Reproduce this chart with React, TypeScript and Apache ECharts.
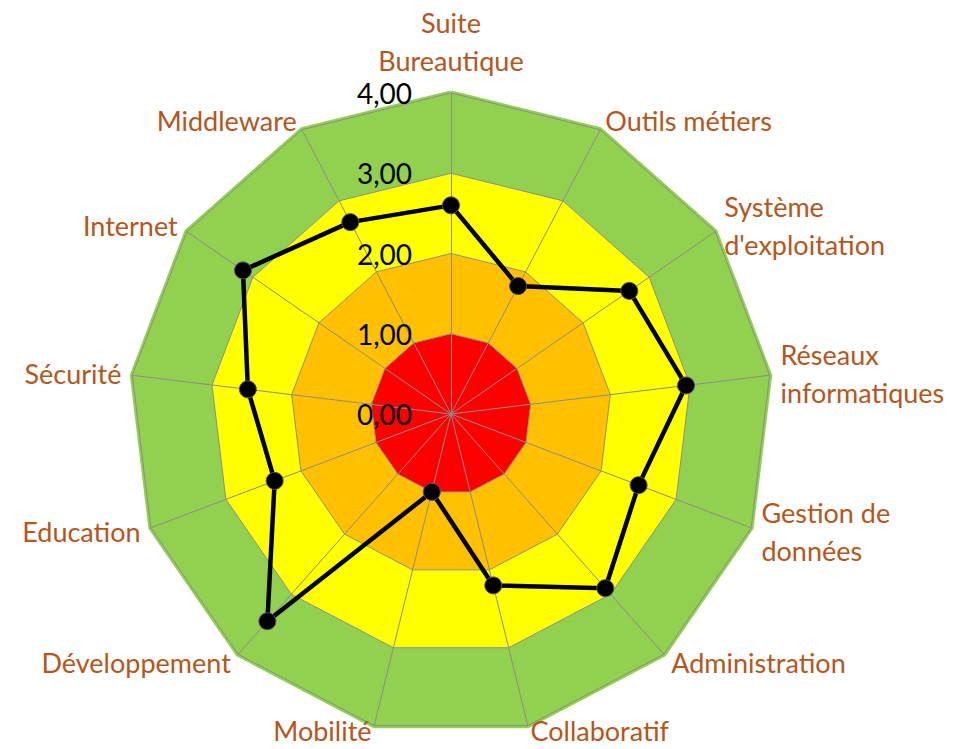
import React, { useEffect, useRef } from "react";
import * as echarts from "echarts";

// Axes, clockwise from the top
const categories = [
  "Suite\nBureautique",
  "Outils métiers",
  "Système\nd'exploitation",
  "Réseaux\ninformatiques",
  "Gestion de\ndonnées",
  "Administration",
  "Collaboratif",
  "Mobilité",
  "Développement",
  "Education",
  "Sécurité",
  "Internet",
  "Middleware",
];

const scores = [2.6, 1.8, 2.7, 2.95, 2.5, 2.9, 2.2, 1.0, 3.45, 2.35, 2.55, 3.15, 2.7];

const tickValues = [0, 1, 2, 3, 4];

const bandColors = ["#FF0000", "#FFC000", "#FFFF00", "#92D050"];

export default function App() {
  const ref = useRef<HTMLDivElement>(null);

  useEffect(() => {
    if (!ref.current) return;
    const chart = echarts.init(ref.current, undefined, { renderer: "svg" });

    const axisMin = tickValues[0];
    const axisMax = tickValues[tickValues.length - 1];

    // ECharts lays radar indicators counter-clockwise; reorder so they run clockwise
    const order = categories.map((_, i) => (i === 0 ? 0 : categories.length - i));
    const indicator = order.map((idx, k) => ({
      name: categories[idx],
      min: axisMin,
      max: axisMax,
      ...(k === 0 ? { axisLabel: { show: true } } : {}),
    }));
    const orderedScores = order.map((idx) => scores[idx]);
    const outline = order.map(() => axisMax);

    chart.setOption({
      animation: false,
      backgroundColor: "#ffffff",
      radar: {
        center: [451, 414],
        radius: 321,
        startAngle: 90,
        shape: "polygon",
        splitNumber: tickValues.length - 1,
        indicator,
        nameGap: 11,
        axisName: {
          color: "#B5561C",
          fontSize: 27,
          fontFamily: "Lato",
          lineHeight: 38,
          formatter: (name: string) =>
            name === "Mobilité" || name === "Collaboratif" ? `{low|${name}}` : name,
          rich: {
            low: {
              color: "#B5561C",
              fontSize: 27,
              fontFamily: "Lato",
              lineHeight: 28,
              padding: [0, 0, 11, 0],
            },
          },
        },
        splitArea: { show: true, areaStyle: { color: bandColors, opacity: 1 } },
        splitLine: { lineStyle: { color: "#8C8C8C", width: 1 } },
        axisLine: { lineStyle: { color: "#8C8C8C", width: 1 } },
        axisTick: { show: false },
        axisLabel: {
          show: false,
          color: "#000000",
          fontSize: 28,
          fontFamily: "Lato",
          margin: 39,
          formatter: (v: number) => v.toFixed(2).replace(".", ","),
        },
      },
      series: [
        {
          type: "radar",
          z: -1,
          silent: true,
          symbol: "none",
          lineStyle: { color: "#92D050", width: 5 },
          data: [{ value: outline }],
        },
        {
          type: "radar",
          z: 3,
          symbol: "circle",
          symbolSize: 17,
          lineStyle: { color: "#000000", width: 4.5 },
          itemStyle: { color: "#000000", borderColor: "#5B4A80", borderWidth: 1 },
          data: [{ value: orderedScores, name: "Score" }],
        },
      ],
    });

    return () => chart.dispose();
  }, []);

  return (
    <div
      ref={ref}
      style={{ position: "fixed", left: 0, top: 0, width: 965, height: 749, background: "#fff" }}
    />
  );
}
